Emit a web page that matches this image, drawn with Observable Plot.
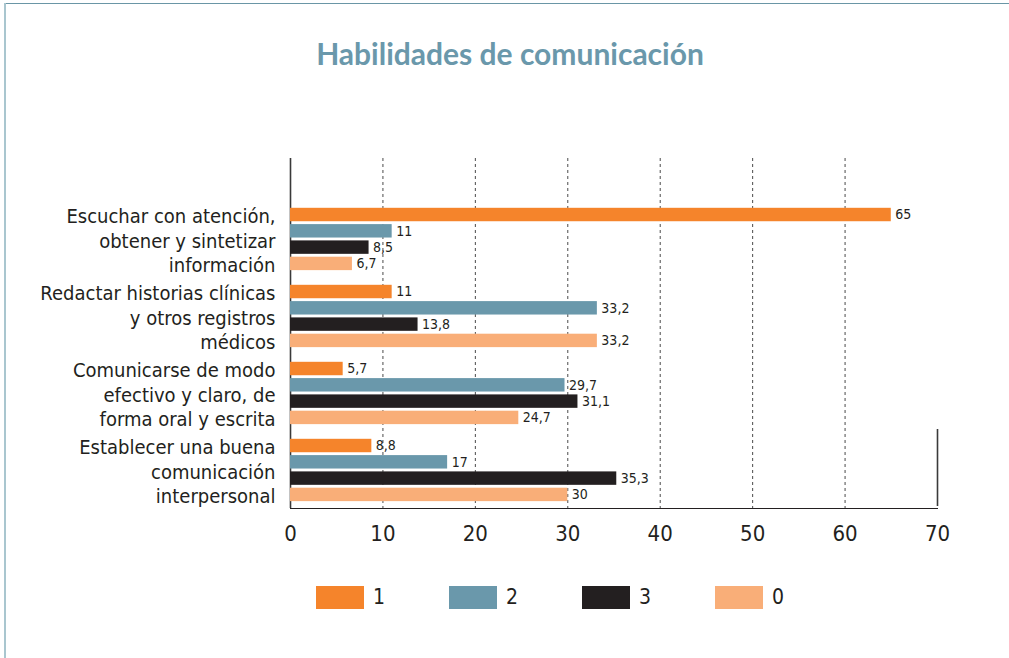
<!DOCTYPE html>
<html>
<head>
<meta charset="utf-8">
<script src="https://cdn.jsdelivr.net/npm/d3@7"></script>
<script src="https://cdn.jsdelivr.net/npm/@observablehq/plot@0.6"></script>
<style>
  html, body { margin: 0; padding: 0; background: #fff; }
  #wrap { position: relative; width: 1009px; height: 658px; overflow: hidden; font-family: "DejaVu Sans Condensed", "Liberation Sans", sans-serif; color: #231f20; }
  #topline { position: absolute; left: 4px; top: 3px; width: 1005px; height: 1px; background: #6a96a6; }
  #leftline { position: absolute; left: 4px; top: 3px; width: 2px; height: 655px; background: #a9c6cf; }
  #title { position: absolute; left: 0; top: 38px; width: 1020px; text-align: center; font-family: Lato, "Open Sans", sans-serif; font-weight: 700; font-size: 30px; line-height: 30px; color: #6a98ab; }
  #chart { position: absolute; left: 0; top: 140px; }
  #legend { position: absolute; top: 586px; left: 316px; display: flex; gap: 64px; }
  .item { display: flex; align-items: center; height: 23px; }
  .sw { width: 48px; height: 23px; margin-right: 9px; }
  .lab { font-size: 21px; line-height: 23px; }
</style>
</head>
<body>
<div id="wrap">
  <div id="topline"></div>
  <div id="leftline"></div>
  <div id="title">Habilidades de comunicación</div>
  <div id="chart"></div>
  <div id="legend"></div>
</div>
<script>
// ---- data ----
const groups = [
  "Escuchar con atención,\nobtener y sintetizar\ninformación",
  "Redactar historias clínicas\ny otros registros\nmédicos",
  "Comunicarse de modo\nefectivo y claro, de\nforma oral y escrita",
  "Establecer una buena\ncomunicación\ninterpersonal"
];
const seriesNames = ["1", "2", "3", "0"];
const values1 = [65, 11, 5.7, 8.8];
const values2 = [11, 33.2, 29.7, 17];
const values3 = [8.5, 13.8, 31.1, 35.3];
const values0 = [6.7, 33.2, 24.7, 30];
const seriesColors = ["#f5842b", "#6a98ab", "#231f20", "#f9ae78"];
const xTicks = [0, 10, 20, 30, 40, 50, 60, 70];
const gridTicks = [10, 20, 30, 40, 50, 60];

const seriesValues = [values1, values2, values3, values0];
const rows = [];
seriesNames.forEach((s, si) => {
  groups.forEach((g, gi) => rows.push({group: g, series: s, si, value: seriesValues[si][gi]}));
});

// ---- layout constants ----
const W = 1009, H = 420;
const bandStep = 77.57;          // group band
const barStep = 16.3, barH = 14, barStart = 5.8;
const fmt = v => String(v).replace(".", ",");

const marks = [
  Plot.ruleX(gridTicks, {stroke: "#4a4a4a", strokeWidth: 1, strokeDasharray: "3,3"}),
  Plot.ruleX([0], {stroke: "#3a3a3a", strokeWidth: 1.6}),
  Plot.ruleX([{x: 70, g: groups[3]}], {x: "x", y1: "g", y2: "g", dy: -4, stroke: "#3a3a3a", strokeWidth: 1.6})
];
seriesNames.forEach((s, si) => {
  const d = rows.filter(r => r.series === s);
  const top = barStart + si * barStep;
  marks.push(Plot.barX(d, {
    x: "value", y: "group", fill: seriesColors[si],
    insetTop: top, insetBottom: bandStep - top - barH
  }));
  marks.push(Plot.text(d, {
    x: "value", y: "group", text: r => fmt(r.value),
    textAnchor: "start", dx: 4, dy: top + barH / 2 - bandStep / 2,
    fontSize: 14, fill: "#231f20"
  }));
});
marks.push(Plot.text(groups, {
  y: d => d, text: d => d, frameAnchor: "left", textAnchor: "end",
  dx: -15, dy: -1, fontSize: 20, lineHeight: 1.23, fill: "#231f20"
}));

const chart = Plot.plot({
  width: W, height: H,
  marginTop: 18, marginBottom: 52, marginLeft: 290, marginRight: 72,
  x: {domain: [0, 70], ticks: xTicks, tickSize: 0, tickPadding: 17, line: true, label: null, tickFormat: d => String(d)},
  y: {type: "band", domain: groups, range: [61.2, 61.2 + 4 * bandStep], padding: 0, axis: null},
  style: {fontFamily: '"DejaVu Sans Condensed", "Liberation Sans", sans-serif', fontSize: "22px", color: "#231f20", background: "transparent", overflow: "visible"},
  marks
});
document.getElementById("chart").appendChild(chart);

// legend
const legend = document.getElementById("legend");
seriesNames.forEach((s, i) => {
  const it = document.createElement("div");
  it.className = "item";
  it.innerHTML = `<div class="sw" style="background:${seriesColors[i]}"></div><div class="lab">${s}</div>`;
  legend.appendChild(it);
});
</script>
</body>
</html>
